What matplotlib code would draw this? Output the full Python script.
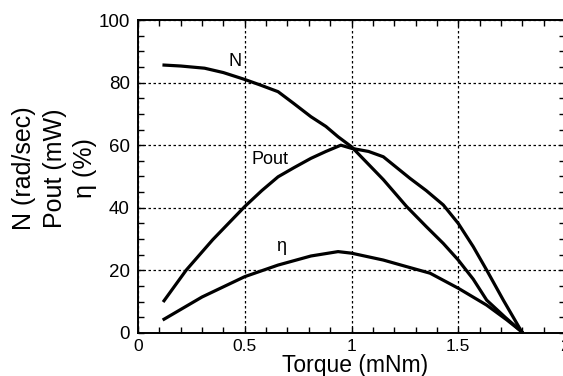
import matplotlib
matplotlib.use("Agg")
import matplotlib.pyplot as plt
from matplotlib.ticker import MultipleLocator

plt.rcParams['font.family'] = ['Liberation Sans', 'DejaVu Sans']

# Speed N (rad/sec)
n_torque = [0.122, 0.20, 0.312, 0.40, 0.50, 0.57, 0.656, 0.73, 0.81, 0.88, 0.937, 1.0, 1.149, 1.258, 1.35, 1.43, 1.50, 1.57, 1.633, 1.72, 1.797]
n_values = [85.6, 85.3, 84.6, 83.2, 81.0, 79.3, 77.1, 73.3, 69.1, 66.0, 62.7, 59.5, 49.0, 40.4, 34.0, 28.6, 23.3, 17.2, 10.5, 5.0, 0.4]

# Output power Pout (mW)
p_torque = [0.122, 0.226, 0.35, 0.50, 0.58, 0.656, 0.73, 0.81, 0.88, 0.95, 1.0, 1.08, 1.149, 1.274, 1.35, 1.43, 1.50, 1.57, 1.633, 1.711, 1.797]
p_values = [10.3, 20.1, 29.8, 40.4, 45.5, 49.9, 52.8, 55.8, 58.0, 60.0, 59.0, 58.0, 56.3, 49.4, 45.5, 40.9, 35.0, 27.6, 20.1, 10.5, 0.4]

# Efficiency eta (%)
e_torque = [0.122, 0.30, 0.50, 0.656, 0.81, 0.937, 1.0, 1.149, 1.258, 1.368, 1.50, 1.633, 1.727, 1.797]
e_values = [4.4, 11.5, 18.0, 21.7, 24.6, 26.0, 25.5, 23.3, 21.2, 19.1, 14.3, 8.9, 4.2, 0.4]

fig = plt.figure(figsize=(5.63, 3.76), dpi=100)
ax = fig.add_axes([0.2451, 0.1144, 1.0036 - 0.2451, 0.9468 - 0.1144])

for xs, ys in [(n_torque, n_values), (p_torque, p_values), (e_torque, e_values)]:
    ax.plot(xs, ys, color='black', lw=2.3, solid_joinstyle='round', zorder=3)

ax.set_xlim(0, 2)
ax.set_ylim(0, 100)
ax.xaxis.set_minor_locator(MultipleLocator(0.1))
ax.yaxis.set_major_locator(MultipleLocator(20))
ax.yaxis.set_minor_locator(MultipleLocator(5))
ax.set_xticks([0, 0.5, 1, 1.5, 2])
ax.set_xticklabels(['0', '0.5', '1', '1.5', '2'])

ax.tick_params(which='both', direction='in', top=True, right=True, width=1.0, color='black')
ax.tick_params(axis='y', which='major', labelsize=13.5, length=4, pad=6)
ax.tick_params(axis='x', which='major', labelsize=12.5, length=4, pad=4)
ax.tick_params(which='minor', length=4)
ax.grid(True, which='major', color='black', linestyle=(0, (2, 2)), linewidth=0.9)
for s in ax.spines.values():
    s.set_linewidth(1.4)

ax.set_xlabel('Torque (mNm)', fontsize=16.5)
ax.xaxis.set_label_coords(0.508, -0.066)
ax.set_ylabel('N (rad/sec)\nPout (mW)\nη (%)', fontsize=18, linespacing=1.35)
ax.yaxis.set_label_coords(-0.095, 0.527)

ax.text(0.454, 86.6, 'N', fontsize=13, ha='center', va='center')
ax.text(0.617, 55.5, 'Pout', fontsize=13, ha='center', va='center')
ax.text(0.668, 27.5, 'η', fontsize=13, ha='center', va='center')

fig.savefig('out.png', dpi=100)
